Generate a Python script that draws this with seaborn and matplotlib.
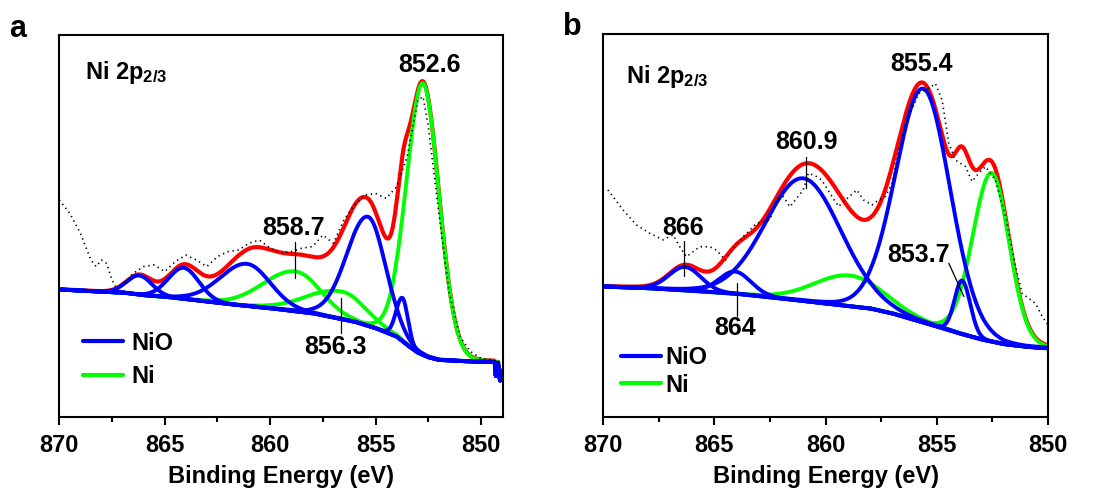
import numpy as np
import matplotlib
matplotlib.use("Agg")
import matplotlib.pyplot as plt
import seaborn as sns
from matplotlib.lines import Line2D
from matplotlib.ticker import MultipleLocator

# ---------------- data (intensity in % of axes height) ----------------
# Panel a: Shirley-type background
a_bg_energy = [870, 868, 867, 866, 865, 864, 862, 860, 858, 856, 855, 854, 853.5, 853, 852.5, 852, 851, 850, 849.5,
               849.35, 849.3, 849.2, 849.1, 849.0]
a_bg_value = [33.4, 32.8, 32.6, 31.9, 31.5, 30.9, 29.6, 28.5, 27.2, 25.0, 23.3, 21.1, 18.9, 16.9, 15.7, 15.0, 14.7, 14.5, 14.5,
              14.5, 10.5, 14.5, 9.5, 12.0]
# Panel a fitted components: centre (eV), height, half-widths on high-BE / low-BE side (eV)
a_nio_center = [866.2, 864.1, 861.1, 855.35, 853.72]
a_nio_height = [5.0, 8.1, 11.0, 28.5, 11.3]
a_nio_hw_hi = [0.7, 0.85, 1.5, 1.2, 0.35]
a_nio_hw_lo = [0.7, 0.85, 1.3, 0.97, 0.3]
a_ni_center = [858.8, 856.6, 852.75]
a_ni_height = [10.4, 7.2, 71.0]
a_ni_hw_hi = [1.8, 1.9, 0.92]
a_ni_hw_lo = [1.4, 1.3, 0.9]
# Panel a raw spectrum (dotted)
a_raw_energy = [870.0, 869.5, 869.0, 868.5, 868.25, 868.0, 867.75, 867.5, 867.25, 867.0, 866.5, 866.0, 865.5, 865.0,
                864.5, 864.0, 863.5, 863.0, 862.5, 862.0, 861.5, 861.0, 860.5, 860.0, 859.5, 859.0, 858.5, 858.0,
                857.5, 857.0, 856.5, 856.0, 855.5, 855.0, 854.5, 854.0, 853.5, 853.0, 852.75, 852.5, 852.0, 851.5,
                851.0, 850.5, 850.0, 849.5, 849.0]
a_raw_value = [56.8, 53.3, 48.1, 41.1, 39.4, 41.1, 40.2, 35.9, 33.3, 34.6, 37.6, 39.4, 39.8, 38.1,
               40.7, 42.4, 41.1, 39.4, 42.0, 43.3, 43.7, 45.5, 46.3, 44.2, 42.9, 43.3, 44.2, 44.6,
               47.6, 45.5, 51.6, 55.5, 58.1, 58.5, 57.2, 60.3, 68.1, 82.9, 83.8, 76.0, 53.3, 32.4,
               21.1, 17.2, 15.4, 15.0, 14.1]

# Panel b
b_bg_energy = [870, 868, 866, 864, 862, 860, 858, 857, 856, 855, 854, 853, 852, 851, 850]
b_bg_value = [34.1, 33.7, 33.0, 32.2, 31.0, 29.7, 28.4, 27.1, 25.4, 23.7, 21.9, 20.3, 19.1, 18.4, 18.0]
b_nio_center = [866.32, 864.07, 861.0, 855.6, 853.86]
b_nio_height = [6.1, 5.8, 32.0, 61.0, 14.0]
b_nio_hw_hi = [0.85, 0.85, 2.0, 1.47, 0.4]
b_nio_hw_lo = [0.85, 0.85, 2.0, 1.42, 0.43]
b_ni_center = [858.9, 852.53]
b_ni_height = [8.0, 44.0]
b_ni_hw_hi = [1.9, 1.0]
b_ni_hw_lo = [1.8, 0.93]
b_raw_energy = [869.78, 869.1, 868.5, 867.9, 867.3, 866.85, 866.55, 866.25, 865.65, 865.2, 864.9, 864.5, 864.3,
                863.7, 863.1, 862.5, 862.2, 861.9, 861.6, 861.0, 860.77, 860.4, 860.17, 859.71, 859.41, 859.11,
                858.59, 858.29, 857.91, 857.61, 857.31, 857.01, 856.71, 856.26, 855.81, 855.36, 855.06, 854.76,
                854.46, 854.16, 853.71, 853.41, 853.11, 852.81, 852.36, 851.91, 851.46, 851.16, 850.86, 850.56,
                850.26, 850.0]
b_raw_value = [59.3, 54.1, 50.2, 48.0, 46.3, 47.6, 44.5, 41.9, 44.5, 44.5, 43.6, 41.0, 42.8,
               47.1, 50.6, 51.5, 56.7, 57.6, 54.9, 59.3, 63.7, 62.8, 61.9, 57.6, 55.0, 56.7,
               59.3, 56.7, 55.4, 56.7, 57.6, 61.0, 69.7, 78.4, 84.5, 85.8, 87.1, 82.8,
               71.5, 67.1, 65.4, 61.5, 63.7, 65.4, 61.9, 52.3, 39.3, 32.3, 31.0, 29.7,
               26.3, 24.1]

# ---------------- style ----------------
sns.set_theme(style="ticks", rc={"axes.edgecolor": "black", "axes.linewidth": 1.5,
                                 "xtick.color": "black", "xtick.major.width": 1.5,
                                 "xtick.minor.width": 1.5, "text.color": "black",
                                 "axes.labelcolor": "black", "xtick.labelcolor": "black"})
plt.rcParams["font.family"] = ["Liberation Sans", "DejaVu Sans"]
plt.rcParams["font.weight"] = "bold"
plt.rcParams["mathtext.fontset"] = "custom"
plt.rcParams["mathtext.rm"] = "Liberation Sans:bold"
plt.rcParams["mathtext.it"] = "Liberation Sans:bold"
plt.rcParams["mathtext.bf"] = "Liberation Sans:bold"

BLUE, GREEN, RED = "#0000FF", "#00FF00", "#FF0000"


def component(E, c, h, hw_hi, hw_lo, eta=0.05):
    hw = np.where(E >= c, hw_hi, hw_lo)
    x = (E - c) / hw
    return h * ((1 - eta) * np.exp(-np.log(2) * x ** 2) + eta / (1 + x ** 2))


def draw_panel(ax, xlim, bgE, bgV, nio, ni, rawE, rawV):
    E = np.linspace(xlim[0], xlim[1], 1500)
    bg = np.interp(E, bgE[::-1], bgV[::-1])
    nio_curves = [component(E, *p) for p in zip(*nio)]
    ni_curves = [component(E, *p) for p in zip(*ni)]
    envelope = bg + sum(nio_curves) + sum(ni_curves)
    sns.lineplot(x=E, y=envelope, ax=ax, color=RED, lw=3.0, sort=False, estimator=None)
    for c in ni_curves:
        sns.lineplot(x=E, y=bg + c, ax=ax, color=GREEN, lw=2.8, sort=False, estimator=None)
    for c in nio_curves:
        sns.lineplot(x=E, y=bg + c, ax=ax, color=BLUE, lw=2.8, sort=False, estimator=None)
    sns.lineplot(x=rawE, y=rawV, ax=ax, color="black", lw=1.2, sort=False, estimator=None,
                 linestyle=(0, (0.8, 2.2)))
    ax.set_xlim(*xlim)
    ax.set_ylim(0, 100)
    ax.set_yticks([])
    ax.set_ylabel("")
    ax.set_xticks([870, 865, 860, 855, 850])
    ax.xaxis.set_minor_locator(MultipleLocator(2.5))
    ax.tick_params(axis="x", which="major", direction="out", length=6, width=1.5, labelsize=17, pad=6,
                   colors="black")
    ax.tick_params(axis="x", which="minor", direction="out", length=3.5, width=1.5, colors="black")
    for s in ax.spines.values():
        s.set_visible(True)
        s.set_linewidth(1.5)
        s.set_color("black")
    ax.set_xlabel("Binding Energy (eV)", fontsize=17, fontweight="bold", labelpad=6, color="black")


fig = plt.figure(figsize=(10.96, 4.9), dpi=100)
axa = fig.add_axes([0.0541, 0.1484, 0.4046, 0.7808])
axb = fig.add_axes([0.5502, 0.1484, 0.4060, 0.7822])

draw_panel(axa, (870, 848.97), a_bg_energy, a_bg_value,
           (a_nio_center, a_nio_height, a_nio_hw_hi, a_nio_hw_lo),
           (a_ni_center, a_ni_height, a_ni_hw_hi, a_ni_hw_lo), a_raw_energy, a_raw_value)
draw_panel(axb, (870, 850), b_bg_energy, b_bg_value,
           (b_nio_center, b_nio_height, b_nio_hw_hi, b_nio_hw_lo),
           (b_ni_center, b_ni_height, b_ni_hw_hi, b_ni_hw_lo), b_raw_energy, b_raw_value)


# annotations
def label(ax, x, y, s, size=18):
    ax.text(x, y, s, ha="center", va="center", fontsize=size, fontweight="bold", color="black")


def leader(ax, x0, y0, x1, y1):
    ax.plot([x0, x1], [y0, y1], color="black", lw=0.9)


axa.text(868.78, 88.3, r"Ni 2p$_{2/3}$", ha="left", va="baseline", fontsize=17, fontweight="bold")
label(axa, 852.42, 92.2, "852.6")
label(axa, 858.9, 49.4, "858.7")
leader(axa, 858.82, 45.9, 858.82, 36.3)
label(axa, 856.88, 18.5, "856.3")
leader(axa, 856.66, 31.1, 856.66, 22.0)

axb.text(868.95, 87.3, r"Ni 2p$_{2/3}$", ha="left", va="baseline", fontsize=17, fontweight="bold")
label(axb, 855.69, 92.3, "855.4")
label(axb, 860.84, 71.9, "860.9")
leader(axb, 860.89, 68.0, 860.89, 59.7)
label(axb, 866.4, 49.5, "866")
leader(axb, 866.35, 46.1, 866.35, 36.9)
label(axb, 864.07, 23.2, "864")
leader(axb, 863.96, 35.1, 863.96, 26.3)
label(axb, 855.81, 42.3, "853.7")
leader(axb, 854.46, 40.2, 853.78, 31.5)

handles = [Line2D([], [], color=BLUE, lw=3), Line2D([], [], color=GREEN, lw=3)]
axa.legend(handles, ["NiO", "Ni"], loc="center left", bbox_to_anchor=(0.053, 0.15), frameon=False,
           fontsize=17, handlelength=1.7, handletextpad=0.35, labelspacing=0.45, borderpad=0, borderaxespad=0)
axb.legend(handles, ["NiO", "Ni"], loc="center left", bbox_to_anchor=(0.04, 0.12), frameon=False,
           fontsize=17, handlelength=1.7, handletextpad=0.2, labelspacing=0.2, borderpad=0, borderaxespad=0)

fig.text(18 / 1096, 1 - 36.7 / 490, "a", fontsize=22, fontweight="bold", ha="center", va="baseline")
fig.text(572 / 1096, 1 - 35 / 490, "b", fontsize=22, fontweight="bold", ha="center", va="baseline")

fig.savefig("out.png", dpi=100)
